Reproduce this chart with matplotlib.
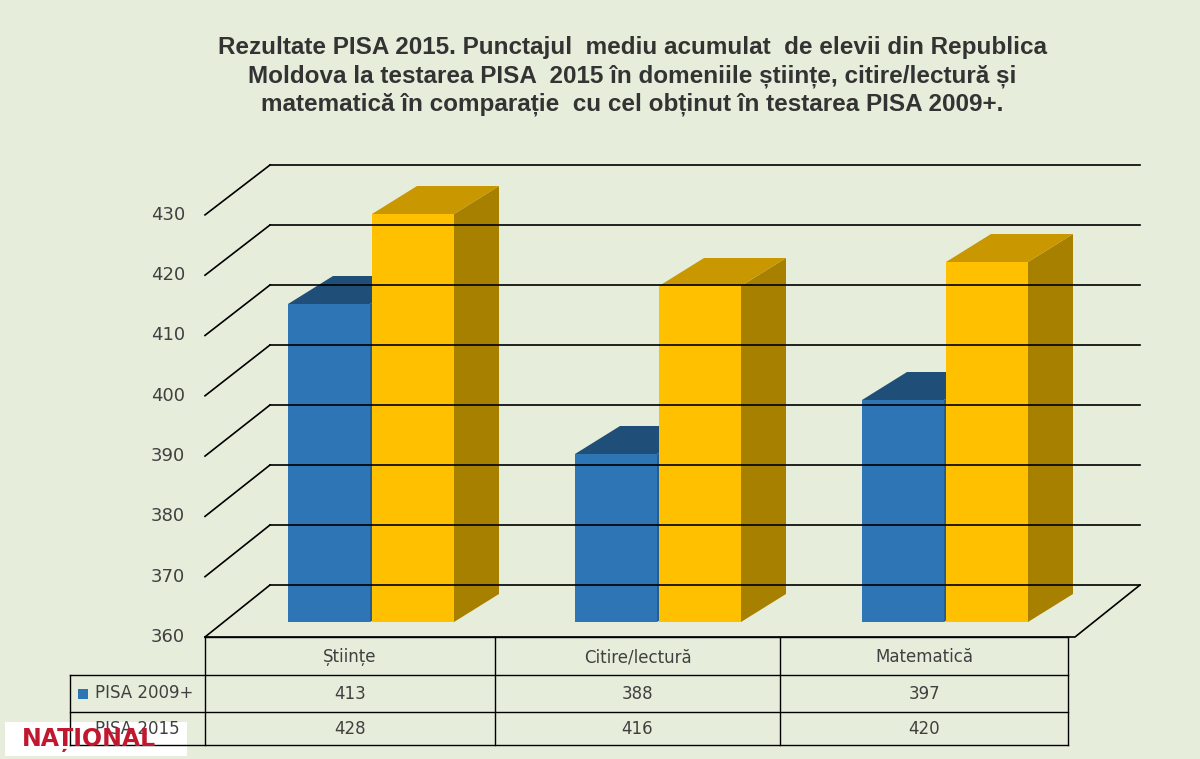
import matplotlib.pyplot as plt
from matplotlib.patches import Polygon, Rectangle

categorii = ['Științe', 'Citire/lectură', 'Matematică']
pisa_2009 = [413, 388, 397]
pisa_2015 = [428, 416, 420]
serii = ['PISA 2009+', 'PISA 2015']
ticks = [360, 370, 380, 390, 400, 410, 420, 430]

fundal = '#e6eedb'
culori = [('#2e75b6', '#1f4e79', '#245f94'), ('#ffc000', '#c99700', '#a88000')]

fig = plt.figure(figsize=(12, 7.59), dpi=100)
fig.patch.set_facecolor(fundal)
ax = fig.add_axes([0, 0, 1, 1])
ax.set_xlim(0, 1200)
ax.set_ylim(759, 0)
ax.axis('off')


def y_bar(v):
    return 622 - (v - 360) * 6.0


def y_back(v):
    return 585 - (v - 360) * 6.0


def y_front(v):
    return 637 - (v - 360) * 6.03


# pereti si grila
for v in ticks:
    yb = y_back(v)
    ax.plot([270, 1140], [yb, yb], color='black', lw=1.2)
    ax.plot([205, 270], [y_front(v), yb], color='black', lw=1.2)
    ax.text(185, y_front(v), str(v), ha='right', va='center', fontsize=13, color='#404040')
ax.plot([205, 1075, 1140], [637, 637, 585], color='black', lw=1.2)

# bare
dx, dy = 45, -28
grup0 = 288
pas = 287
latime = 82
for i in range(len(categorii)):
    for s, valori in enumerate([pisa_2009, pisa_2015]):
        x0 = grup0 + i * pas + s * (latime + 2)
        yt = y_bar(valori[i])
        yb = 622
        fata, sus, lateral = culori[s]
        ax.add_patch(Polygon([(x0 + latime, yb), (x0 + latime + dx, yb + dy),
                              (x0 + latime + dx, yt + dy), (x0 + latime, yt)],
                             facecolor=lateral, edgecolor='none'))
        ax.add_patch(Polygon([(x0, yt), (x0 + dx, yt + dy), (x0 + latime + dx, yt + dy),
                              (x0 + latime, yt)], facecolor=sus, edgecolor='none'))
        ax.add_patch(Rectangle((x0, yt), latime, yb - yt, facecolor=fata, edgecolor='none'))

# tabel
col = [205, 495, 780, 1068]
rand = [637, 675, 712, 745]
for x in col:
    ax.plot([x, x], [637, 745], color='black', lw=1)
for y in rand:
    ax.plot([205 if y == 637 else 70, 1068], [y, y], color='black', lw=1)
ax.plot([70, 70], [675, 745], color='black', lw=1)
for i, c in enumerate(categorii):
    xc = (col[i] + col[i + 1]) / 2
    ax.text(xc, 657, c, ha='center', va='center', fontsize=12, color='#404040')
    ax.text(xc, 694, str(pisa_2009[i]), ha='center', va='center', fontsize=12, color='#404040')
    ax.text(xc, 729, str(pisa_2015[i]), ha='center', va='center', fontsize=12, color='#404040')
for s, nume in enumerate(serii):
    yc = (rand[s + 1] + rand[s + 2]) / 2
    ax.add_patch(Rectangle((78, yc - 5), 10, 10, facecolor=culori[s][0]))
    ax.text(95, yc, nume, ha='left', va='center', fontsize=12, color='#404040')

# titlu
ax.text(632, 76, 'Rezultate PISA 2015. Punctajul  mediu acumulat  de elevii din Republica\n'
        'Moldova la testarea PISA  2015 în domeniile științe, citire/lectură și\n'
        'matematică în comparație  cu cel obținut în testarea PISA 2009+.',
        ha='center', va='center', fontsize=17.5, fontweight='bold', color='#333333',
        family='Liberation Sans', linespacing=1.3)

# sigla
ax.add_patch(Rectangle((5, 722), 182, 34, facecolor='white', edgecolor='none'))
ax.text(22, 740, 'NAȚIONAL', ha='left', va='center', fontsize=17, fontweight='bold',
        color='#c0182f')

fig.savefig('out.png', dpi=100, facecolor=fundal)
